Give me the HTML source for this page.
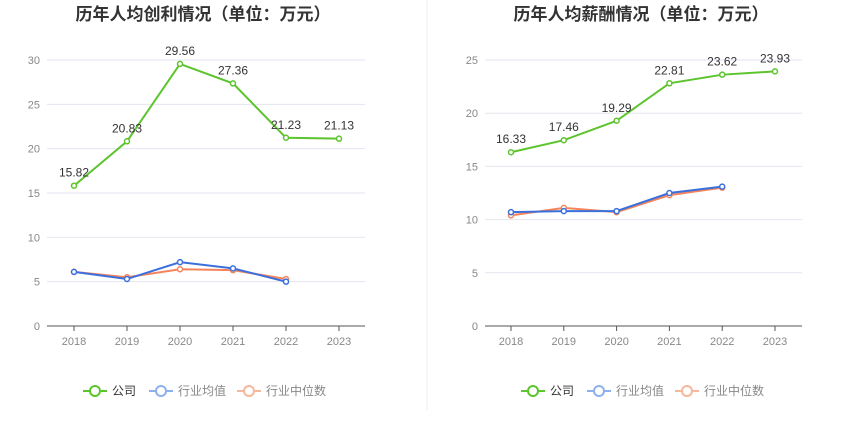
<!DOCTYPE html>
<html><head><meta charset="utf-8"><style>
body{margin:0;background:#fff;width:850px;height:437px;overflow:hidden;font-family:"Liberation Sans","Noto Sans CJK SC",sans-serif}
svg{position:absolute;left:0;top:0}
</style></head><body>
<svg id="c" width="850" height="437"></svg>
<script>
const years=["2018","2019","2020","2021","2022","2023"];
const profitCompany=[15.82,20.83,29.56,27.36,21.23,21.13];
const profitAvg=[6.1,5.3,7.2,6.5,5.0];
const profitMedian=[6.1,5.5,6.4,6.3,5.3];
const profitTicks=[0,5,10,15,20,25,30];
const salaryCompany=[16.33,17.46,19.29,22.81,23.62,23.93];
const salaryAvg=[10.7,10.8,10.8,12.5,13.1];
const salaryMedian=[10.4,11.1,10.7,12.3,13.0];
const salaryTicks=[0,5,10,15,20,25];
const NS="http://www.w3.org/2000/svg";
const svg=document.getElementById('c');
function mk(t,a,txt){const e=document.createElementNS(NS,t);for(const k in a)e.setAttribute(k,a[k]);if(txt!==undefined)e.textContent=txt;svg.appendChild(e);return e;}
function chart(o){
  const x=i=>o.x0+o.step*i, y=v=>326-v*o.ppu;
  let t=mk('text',{x:o.cx,y:20,'text-anchor':'middle','font-size':17,'font-weight':'bold',fill:'#333'},o.title);
  
  
  o.ticks.forEach(v=>{
    if(v>0){const g=mk('line',{x1:o.ax0,x2:o.ax1,y1:y(v),y2:y(v),stroke:'#e3e6f0'});
      
      }
    const l=mk('text',{x:o.ax0-7,y:y(v)+4,'text-anchor':'end','font-size':11,fill:'#888'},v);
    
    
  });
  const ax=mk('line',{x1:o.ax0,x2:o.ax1,y1:326,y2:326,stroke:'#555'});
  
  
  years.forEach((yr,i)=>{
    mk('line',{x1:x(i),x2:x(i),y1:326,y2:331,stroke:'#555'});
    const l=mk('text',{x:x(i),y:345,'text-anchor':'middle','font-size':11,fill:'#888'},yr);
    
    
  });
  [[o.med,'#f5845a','median'],[o.avg,'#3b70dc','average'],[o.comp,'#5cc42c','company']].forEach(([d,c,n])=>{
    const p=mk('polyline',{points:d.map((v,i)=>x(i)+','+y(v)).join(' '),fill:'none',stroke:c,'stroke-width':2});
    
    
    d.forEach((v,i)=>{const cc=mk('circle',{cx:x(i),cy:y(v),r:2.5,fill:'#fff',stroke:c,'stroke-width':1.5});
      
      });
  });
  o.comp.forEach((v,i)=>{const l=mk('text',{x:x(i),y:y(v)-9,'text-anchor':'middle','font-size':12,fill:'#333'},v.toFixed(2));
    
    });
  const lx=o.cx-120;
  [['公司','#5cc42c',0],['行业均值','#8fb0ee',66],['行业中位数','#f7b79c',154]].forEach(([n,c,dx])=>{
    const g=mk('line',{x1:lx+dx,x2:lx+dx+24,y1:391,y2:391,stroke:c,'stroke-width':2});
    
    
    mk('circle',{cx:lx+dx+12,cy:391,r:5,fill:'#fff',stroke:c,'stroke-width':2});
    const l=mk('text',{x:lx+dx+29,y:395,'font-size':12,fill:dx==0?'#333':'#888'},n);
    
    
  });
}
chart({key:'profit',title:'历年人均创利情况（单位：万元）',cx:203,x0:74,step:53,ax0:47,ax1:365,ppu:266/30,ticks:profitTicks,comp:profitCompany,avg:profitAvg,med:profitMedian});
chart({key:'salary',title:'历年人均薪酬情况（单位：万元）',cx:641,x0:511,step:52.8,ax0:485,ax1:802,ppu:266/25,ticks:salaryTicks,comp:salaryCompany,avg:salaryAvg,med:salaryMedian});
const d=mk('line',{x1:427,x2:427,y1:0,y2:410,stroke:'#eee'});


</script>
</body></html>
